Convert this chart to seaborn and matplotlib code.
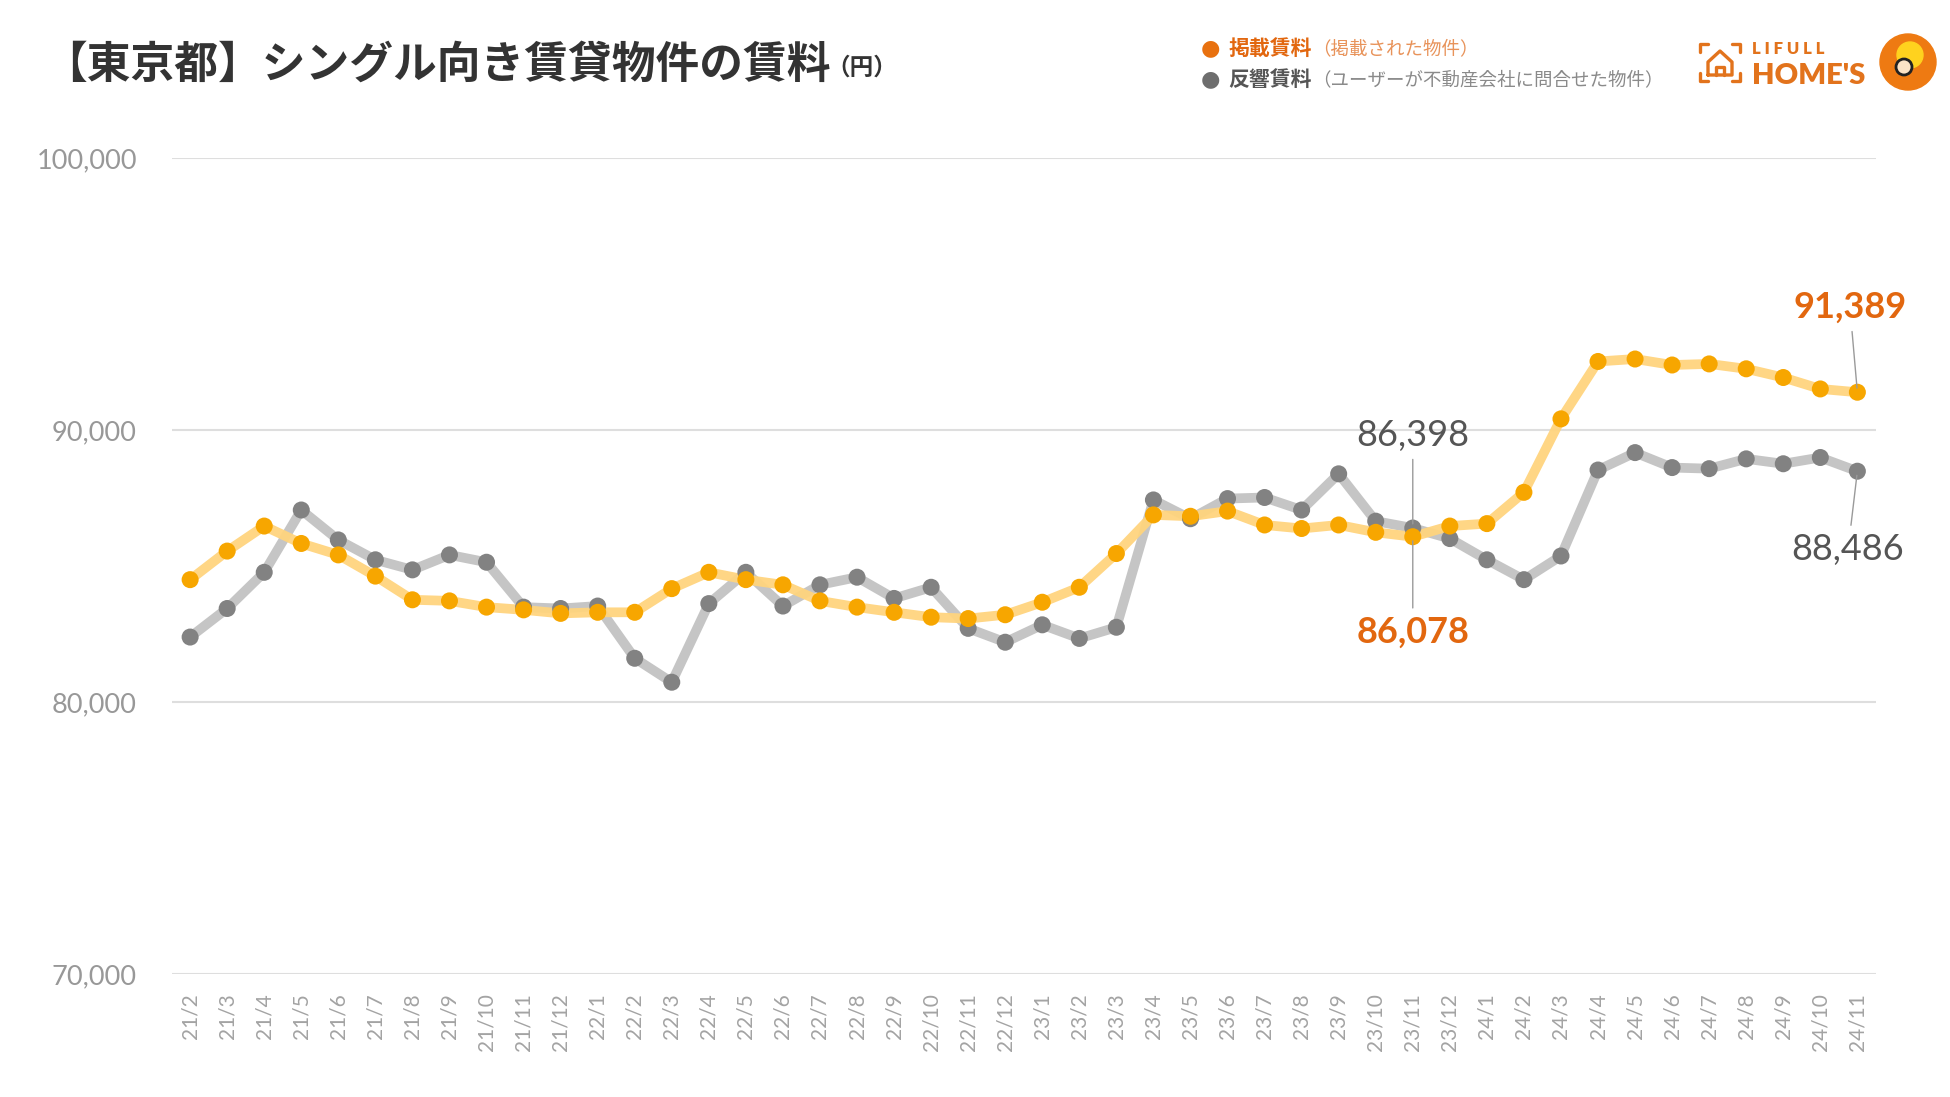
import numpy as np
import pandas as pd
import matplotlib
matplotlib.use("Agg")
import matplotlib.pyplot as plt
from matplotlib.patches import Circle
from matplotlib.lines import Line2D
from matplotlib.ticker import FuncFormatter
import seaborn as sns


# 月 (21/2 - 24/11)
months = ["21/2", "21/3", "21/4", "21/5", "21/6", "21/7", "21/8", "21/9", "21/10", "21/11", "21/12",
          "22/1", "22/2", "22/3", "22/4", "22/5", "22/6", "22/7", "22/8", "22/9", "22/10", "22/11", "22/12",
          "23/1", "23/2", "23/3", "23/4", "23/5", "23/6", "23/7", "23/8", "23/9", "23/10", "23/11", "23/12",
          "24/1", "24/2", "24/3", "24/4", "24/5", "24/6", "24/7", "24/8", "24/9", "24/10", "24/11"]

# 掲載賃料
posted = [84500, 85550, 86470, 85830, 85410, 84630, 83760, 83720, 83490, 83390, 83260,
          83300, 83300, 84170, 84770, 84500, 84310, 83720, 83490, 83300, 83120, 83070, 83210,
          83670, 84220, 85460, 86880, 86830, 87020, 86510, 86380, 86510, 86240, 86078, 86470,
          86560, 87710, 90410, 92520, 92610, 92390, 92430, 92250, 91930, 91510, 91389]

# 反響賃料
response = [82390, 83440, 84770, 87060, 85960, 85230, 84860, 85410, 85140, 83490, 83440,
            83530, 81610, 80730, 83620, 84770, 83530, 84310, 84590, 83810, 84220, 82710, 82200,
            82840, 82340, 82750, 87430, 86740, 87480, 87520, 87060, 88390, 86650, 86398, 86010,
            85230, 84500, 85370, 88530, 89170, 88620, 88580, 88940, 88760, 88990, 88486]

y_ticks = [70000, 80000, 90000, 100000]

# (index, series, label x offset, label y position)
callouts = [(33, "response", 0.0, 89800), (33, "posted", 0.0, 82580),
            (45, "posted", -0.2, 94500), (45, "response", -0.25, 85620)]

ORANGE_LINE = "#FFD47E"
ORANGE_DOT = "#F7A600"
ORANGE_TEXT = "#E2670F"
GRAY_LINE = "#C2C2C2"
GRAY_DOT = "#828282"
GRAY_TEXT = "#555555"

sns.set_style("white")
plt.rcParams['font.family'] = ['Noto Sans CJK JP', 'DejaVu Sans']

df = pd.DataFrame({"idx": np.arange(len(months)), "month": months,
                   "posted": posted, "response": response})

fig = plt.figure(figsize=(19.5, 10.97), dpi=100)
ax = fig.add_axes([0.088, 0.112, 0.874, 0.744])

for col, lc, mc in [("response", GRAY_LINE, GRAY_DOT), ("posted", ORANGE_LINE, ORANGE_DOT)]:
    sns.lineplot(data=df, x="idx", y=col, ax=ax, color=lc, linewidth=7, alpha=0.95,
                 solid_capstyle="round", zorder=2)
    sns.scatterplot(data=df, x="idx", y=col, ax=ax, color=mc, s=150, edgecolor="none", zorder=3)

ax.set_xlim(-0.5, len(months) - 0.5)
ax.set_ylim(70000, 100000)
ax.set_yticks(y_ticks)
ax.yaxis.set_major_formatter(FuncFormatter(lambda v, p: f"{int(v):,}"))
ax.set_xticks(df["idx"])
ax.set_xticklabels(months, rotation=90, va="top")
ax.tick_params(axis="x", length=0, pad=14, labelsize=15, labelcolor="#A3A3A3")
ax.tick_params(axis="y", length=0, pad=25, labelsize=19.5, labelcolor="#989898")
for lab in ax.get_xticklabels() + ax.get_yticklabels():
    lab.set_family(['Lato', 'DejaVu Sans'])
ax.grid(axis="y", color="#DEDEDE", linewidth=1.5)
ax.grid(axis="x", visible=False)
ax.set_axisbelow(True)
for s in ax.spines.values():
    s.set_visible(False)
ax.set_xlabel("")
ax.set_ylabel("")

# callouts
for i, col, dx, ty in callouts:
    val = df.loc[i, col]
    color = ORANGE_TEXT if col == "posted" else GRAY_TEXT
    weight = "bold" if col == "posted" else "normal"
    ax.annotate(f"{val:,}", xy=(i, val), xytext=(i + dx, ty), ha="center", va="center",
                fontsize=26, color=color, fontweight=weight, family=['Lato', 'DejaVu Sans'],
                arrowprops=dict(arrowstyle="-", color="#9A9A9A", lw=1, shrinkA=3, shrinkB=3),
                zorder=5)

# title
fig.text(0.022, 0.941, "【東京都】シングル向き賃貸物件の賃料", fontsize=31.5, fontweight="bold",
         color="#333333", va="center", ha="left")
fig.text(0.424, 0.938, "（円）", fontsize=17, fontweight="bold", color="#333333", va="center", ha="left")

# legend
fig.text(0.6205, 0.956, "●", fontsize=16, color="#E8710F", va="center", ha="center", family="DejaVu Sans")
fig.text(0.630, 0.956, "掲載賃料", fontsize=15, fontweight="bold", color="#E2670F", va="center")
fig.text(0.673, 0.955, "（掲載された物件）", fontsize=13.3, color="#E8935A", va="center")
fig.text(0.6205, 0.928, "●", fontsize=16, color="#6E6E6E", va="center", ha="center", family="DejaVu Sans")
fig.text(0.630, 0.928, "反響賃料", fontsize=15, fontweight="bold", color="#555555", va="center")
fig.text(0.673, 0.927, "（ユーザーが不動産会社に問合せた物件）", fontsize=13.3, color="#8A8A8A", va="center")

# logo
LOGO = "#E2731C"
fig.text(0.8985, 0.955, "L I F U L L", fontsize=12, fontweight="heavy", color=LOGO, va="center",
         family=['Lato', 'DejaVu Sans'])
fig.text(0.8985, 0.931, "HOME'S", fontsize=21, fontweight="heavy", color=LOGO, va="center",
         family=['Lato', 'DejaVu Sans'])
W, H = 1950, 1097
def px(x, y):
    return x / W, 1 - y / H
segs = [[(1700, 52), (1700, 44), (1708, 44)], [(1732, 44), (1740, 44), (1740, 52)],
        [(1700, 73), (1700, 81), (1708, 81)], [(1732, 81), (1740, 81), (1740, 73)],
        [(1708, 75), (1708, 62), (1720, 51), (1732, 62), (1732, 75), (1708, 75)],
        [(1716, 75), (1716, 67), (1724, 67), (1724, 75)]]
for seg in segs:
    xs, ys = zip(*[px(a, b) for a, b in seg])
    fig.add_artist(Line2D(xs, ys, color=LOGO, lw=2.4, transform=fig.transFigure))
cx, cy = 1908, H - 62
fig.add_artist(Circle((cx, cy), 28, transform=None, color="#EE7A12"))
fig.add_artist(Circle((cx + 2, cy + 7), 13, transform=None, color="#FFD21E"))
fig.add_artist(Circle((cx - 4, cy - 5), 8, transform=None, color="#FBE3C6", ec="#222222", lw=2))

fig.savefig("out.png", dpi=100, facecolor="white")
